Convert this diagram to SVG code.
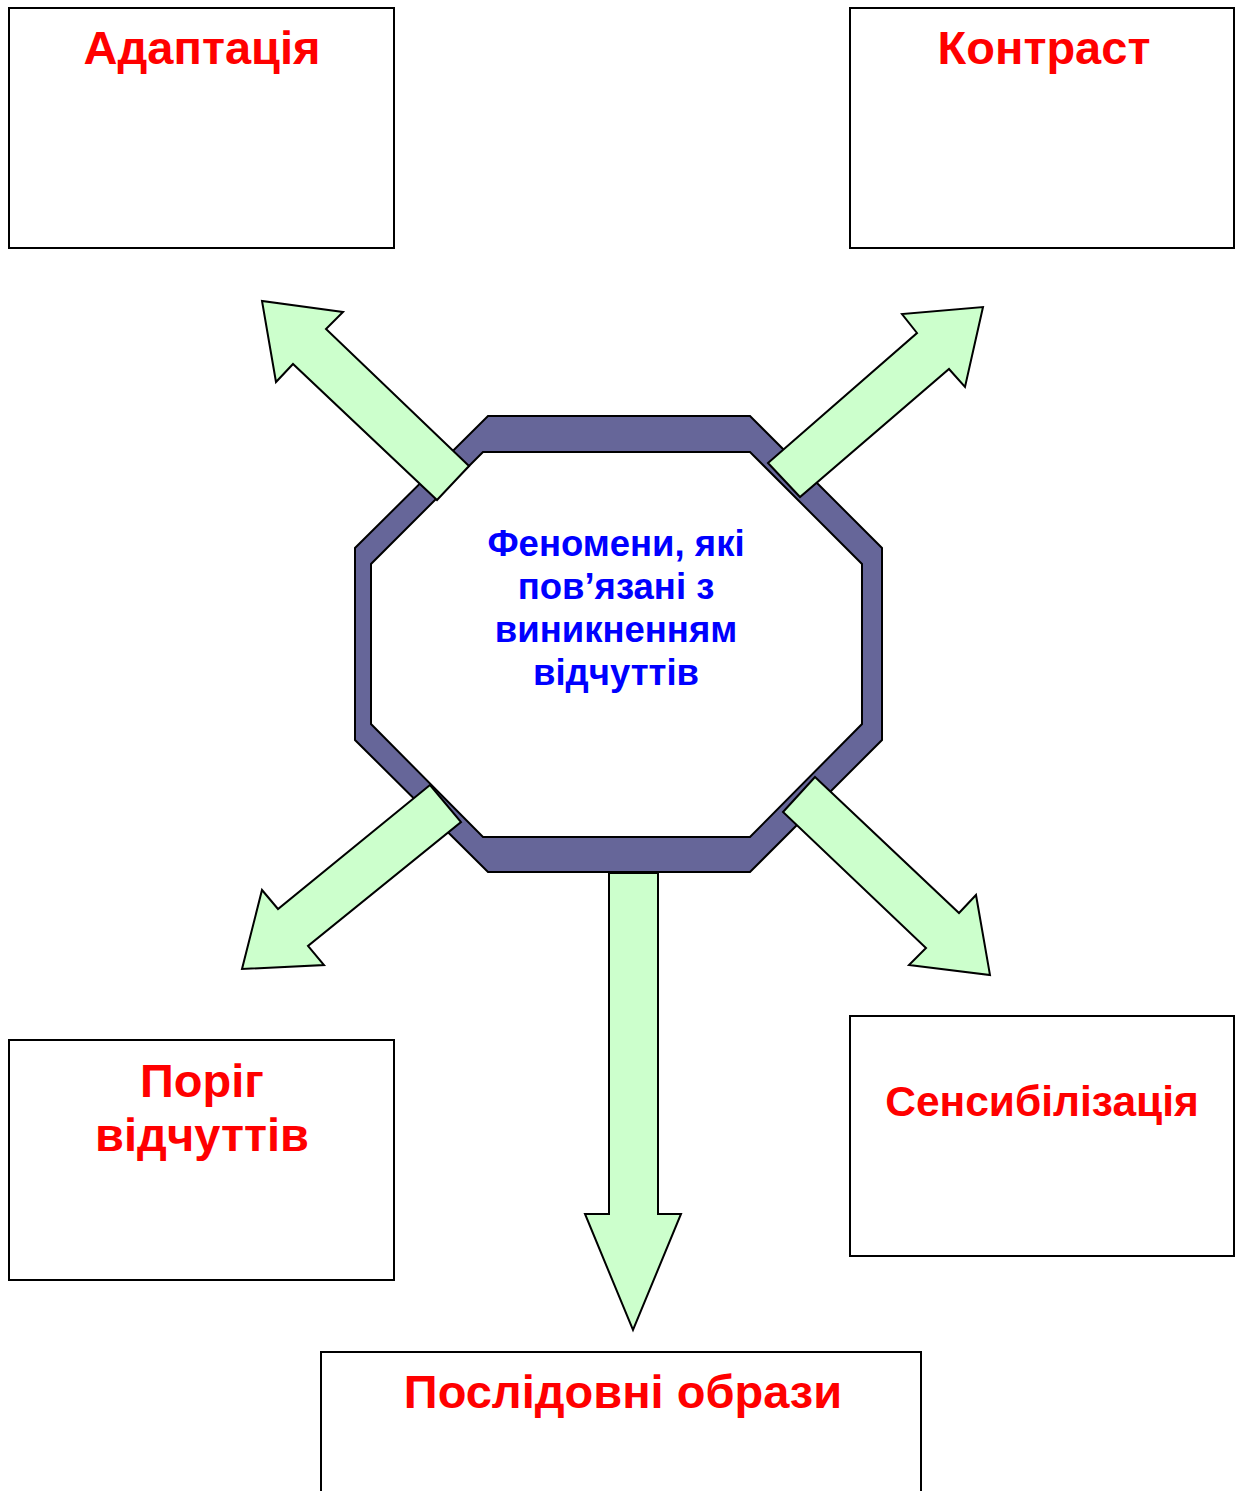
<svg xmlns="http://www.w3.org/2000/svg" width="1242" height="1491" viewBox="0 0 1242 1491">
<style>
.box{fill:#fff;stroke:#000;stroke-width:2}
.arrow{fill:#ccffcc;stroke:#000;stroke-width:2;stroke-linejoin:miter}
.ring{fill:#666699;fill-rule:evenodd;stroke:#000;stroke-width:2}
.lbl{font-family:"Liberation Sans",Arial,sans-serif;font-weight:bold;fill:#ff0000;font-size:47px;text-anchor:middle}
.ctr{font-family:"Liberation Sans",Arial,sans-serif;font-weight:bold;fill:#0000ff;font-size:36.5px;text-anchor:middle}
</style>
<rect width="1242" height="1491" fill="#fff"/>
<g id="node-adaptatsiia"><rect class="box" x="9" y="8" width="385" height="240"/><text class="lbl" x="202" y="64">Адаптація</text></g>
<g id="node-kontrast"><rect class="box" x="850" y="8" width="384" height="240"/><text class="lbl" x="1044" y="64" font-size="48">Контраст</text></g>
<g id="node-porih"><rect class="box" x="9" y="1040" width="385" height="240"/><text class="lbl" x="202" y="1097">Поріг</text><text class="lbl" x="202" y="1151">відчуттів</text></g>
<g id="node-sensybilizatsiia"><rect class="box" x="850" y="1016" width="384" height="240"/><text class="lbl" x="1042" y="1116" style="font-size:42.5px">Сенсибілізація</text></g>
<g id="node-poslidovni"><rect class="box" x="321" y="1352" width="600" height="150"/><text class="lbl" x="623" y="1408">Послідовні образи</text></g>
<g id="node-center">
<path class="ring" d="M488,416 L750,416 L882,548 L882,740 L750,872 L488,872 L355,740 L355,548 Z M483,452 L371,564 L371,724 L483,837 L750,837 L862,724 L862,564 L750,452 Z"/>
<text class="ctr" x="616" y="556">Феномени, які</text>
<text class="ctr" x="616" y="599">пов’язані з</text>
<text class="ctr" x="616" y="642">виникненням</text>
<text class="ctr" x="616" y="685">відчуттів</text>
</g>
<g id="connectors">
<polygon class="arrow" points="469,466 326,329 343,312 262,301 276,382 293,364 437,500"/>
<polygon class="arrow" points="768,463 917,333 902,314 983,307 965,387 949,369 800,497"/>
<polygon class="arrow" points="430,785 278,909 262,890 242,969 324,965 308,946 461,822"/>
<polygon class="arrow" points="815,777 959,913 976,895 990,975 909,965 926,948 783,812"/>
<polygon class="arrow" points="609,873 609,1214 585,1214 633,1330 681,1214 658,1214 658,873"/>
</g>
</svg>
